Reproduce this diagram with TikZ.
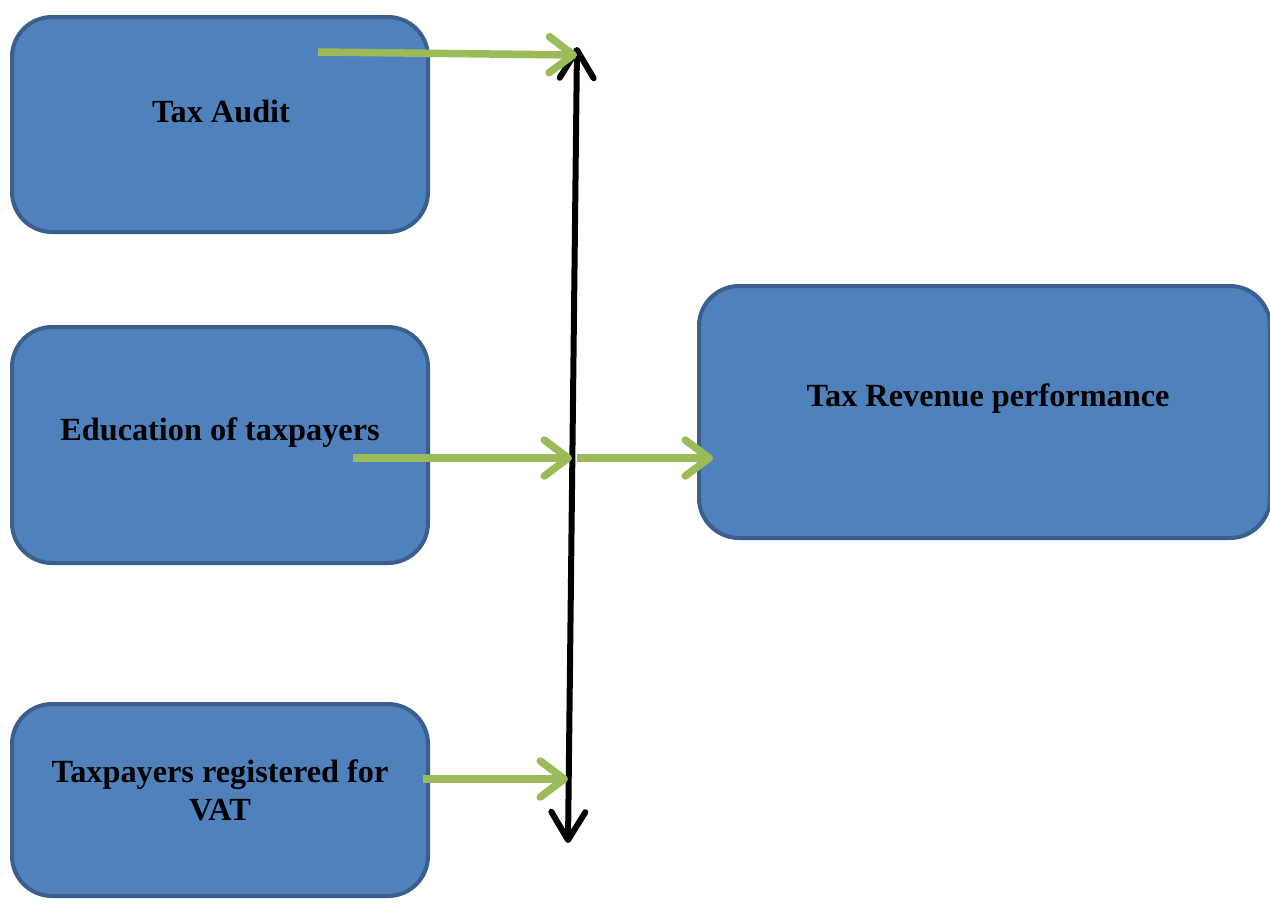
\documentclass[tikz,border=0pt]{standalone}
\usepackage{fontspec}
\setmainfont{Liberation Serif}
\usetikzlibrary{arrows.meta}
\definecolor{boxfill}{HTML}{4F81BD}
\definecolor{boxline}{HTML}{3A5F8E}
\definecolor{arrgreen}{HTML}{9BBB59}
\tikzset{
  box/.style={draw=boxline, fill=boxfill, line width=4pt, rounded corners=40pt, inner sep=0pt},
  boxtext/.style={font=\fontsize{32.3}{38}\selectfont\bfseries, align=center, text=black, inner sep=0pt},
  garrow/.style={draw=arrgreen, line width=7.5pt, -{Straight Barb[length=24pt,width=36pt,round]}},
  karrow/.style={draw=black, line width=6pt, {Straight Barb[length=28pt,width=34pt,round]}-{Straight Barb[length=28pt,width=34pt,round]}}
}
\begin{document}
\begin{tikzpicture}[x=1pt,y=-1pt]
\useasboundingbox (0,0) rectangle (1270,903);
% boxes
\node[box, minimum width=416pt, minimum height=215pt] (audit) at (220,124.5) {};
\node[box, minimum width=416pt, minimum height=236pt] (edu) at (220,445) {};
\node[box, minimum width=416pt, minimum height=192pt] (vat) at (220,800) {};
\node[box, minimum width=571pt, minimum height=252pt] (rev) at (984.5,412) {};
% texts
\node[boxtext] (tAudit) at (221,111) {Tax Audit};
\node[boxtext] (tEdu) at (220,433) {Education of taxpayers};
\node[boxtext] (tVat) at (220,790) {Taxpayers registered for\\VAT};
\node[boxtext] (tRev) at (988,399) {Tax Revenue performance};
% coordinates
\coordinate (top) at (577,47);
\coordinate (bot) at (568,843);
\coordinate (a1s) at (318,52);
\coordinate (a1e) at (577,55);
\coordinate (a2s) at (353,458);
\coordinate (a2e) at (572,458);
\coordinate (a3s) at (577,458);
\coordinate (a3e) at (713,458);
\coordinate (a4s) at (423,779);
\coordinate (a4e) at (568,779);
% black double arrow
\draw[karrow] (bot) -- (top);
% green arrows
\draw[garrow] (a1s) -- (a1e);
\draw[garrow] (a2s) -- (a2e);
\draw[garrow] (a3s) -- (a3e);
\draw[garrow] (a4s) -- (a4e);
\end{tikzpicture}
\end{document}
